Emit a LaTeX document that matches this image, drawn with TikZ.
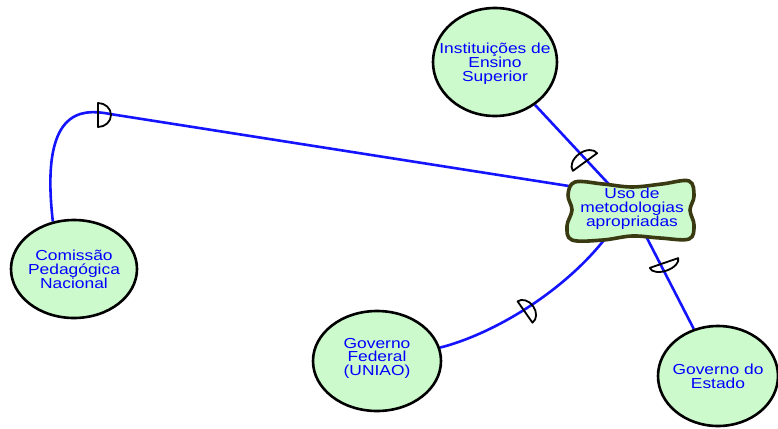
\documentclass[tikz,border=0pt]{standalone}
\usepackage{fontspec}
\newfontfamily\lblfont{Liberation Sans}[FakeStretch=1.2]
\usetikzlibrary{shapes.geometric,backgrounds}
\definecolor{nodefill}{RGB}{204,250,204}
\definecolor{blobline}{RGB}{58,58,18}
\definecolor{linkblue}{RGB}{20,20,255}
\definecolor{txtblue}{RGB}{0,0,255}
\begin{document}
\begin{tikzpicture}[x=1pt,y=-1pt,
  concept/.style={ellipse, draw=black, line width=2.6pt, fill=nodefill, inner sep=0pt},
  lbltext/.style={text=txtblue, font=\lblfont\fontsize{14.5}{14}\selectfont, align=center, inner sep=0pt},
  link/.style={draw=linkblue, line width=2.6pt},
  markline/.style={draw=black, line width=1.8pt, line join=round}]
\useasboundingbox (0,0) rectangle (778,428);

% concept ellipses
\node[concept, minimum width=124pt, minimum height=108pt,
  label={[lbltext, yshift=-2pt]center:Instituições de\\Ensino\\Superior}] (inst) at (495,62) {};
\node[concept, minimum width=126pt, minimum height=98pt,
  label={[lbltext]center:Comissão\\Pedagógica\\Nacional}] (com) at (74,269) {};
\node[concept, minimum width=128pt, minimum height=100pt,
  label={[lbltext, font=\lblfont\fontsize{14.5}{13.5}\selectfont, yshift=3pt]center:Governo\\Federal\\(UNIAO)}] (gf) at (377,361) {};
\node[concept, minimum width=120pt, minimum height=100pt,
  label={[lbltext]center:Governo do\\Estado}] (gs) at (718,376) {};

% central wavy box
\draw[blobline, line width=3.6pt, fill=nodefill]
  plot[smooth cycle, tension=0.6] coordinates {
   (575,182) (603,184) (632,187) (662,184) (689,181) (694,196)
   (690,210) (694,225) (689,239) (660,238) (632,236) (603,240)
   (572,240) (567,226) (572,210) (568,195)};
\node[lbltext, minimum width=126pt, minimum height=62pt] (uso) at (632,209)
  {Uso de\\metodologias\\apropriadas};

% connectors
\begin{scope}[on background layer]
\fill[white] (0,0) rectangle (778,428);
\draw[link] (com.114) .. controls (40,110) and (80,108) .. (110,114) -- (uso.160);
\draw[link] (inst) -- (uso.center);
\draw[link] (uso.center) -- (gs);
\draw[link] (uso.228) .. controls (560,295) and (490,335) .. (gf.12);
\end{scope}

% half-circle markers
\draw[markline, shift={(98,115)}, rotate=0]
  (0,-12) arc[start angle=-90, end angle=90, x radius=13, y radius=12] -- cycle;
\draw[markline, shift={(585,162)}, rotate=126]
  (0,-15) arc[start angle=-90, end angle=90, x radius=10, y radius=15] -- cycle;
\draw[markline, shift={(664,263)}, rotate=-71]
  (0,-15) arc[start angle=-90, end angle=90, x radius=8, y radius=15] -- cycle;
\draw[markline, shift={(525,312)}, rotate=35]
  (0,-13) arc[start angle=-90, end angle=90, x radius=10, y radius=13] -- cycle;
\end{tikzpicture}
\end{document}
